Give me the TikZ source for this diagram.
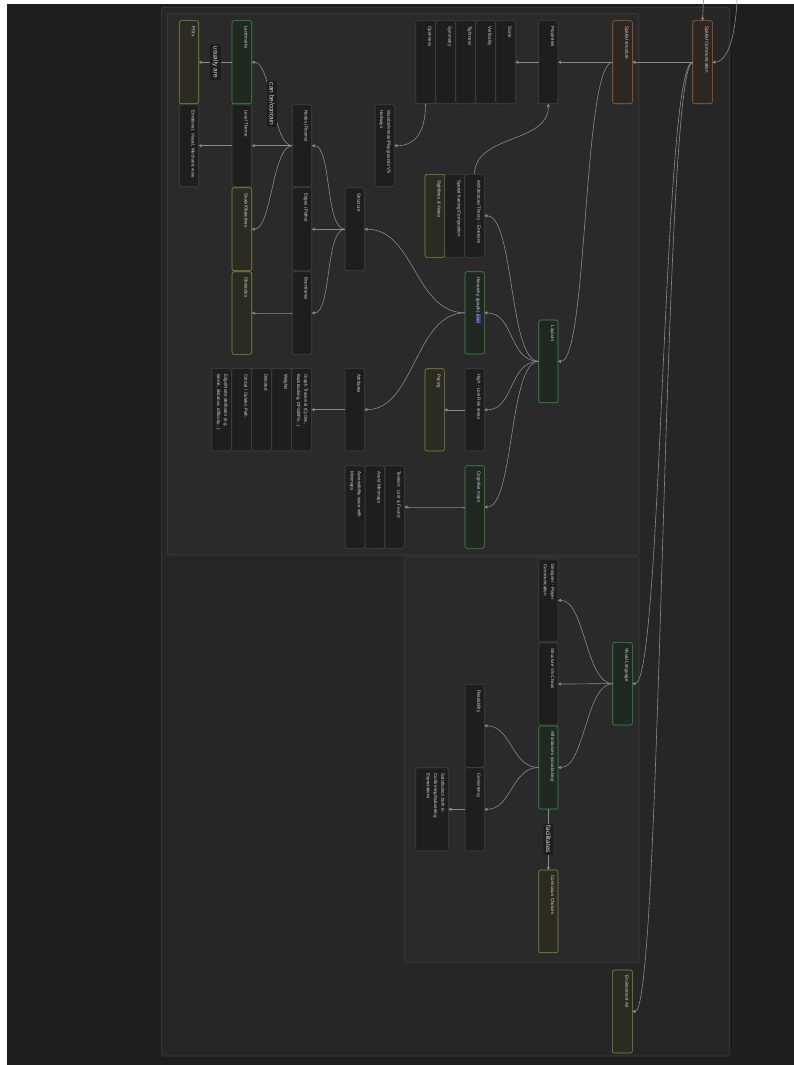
\documentclass[tikz,border=0pt]{standalone}
\usepackage{fontspec}
\setmainfont{Liberation Sans}
\usetikzlibrary{arrows.meta}
\definecolor{bgdark}{HTML}{1E1E1E}
\definecolor{grpA}{HTML}{262626}
\definecolor{grpB}{HTML}{2A2A2A}
\definecolor{grpline}{HTML}{3F3F3F}
\definecolor{nfill}{HTML}{1E1E1E}
\definecolor{nline}{HTML}{424242}
\definecolor{gfill}{HTML}{1F2922}
\definecolor{gline}{HTML}{3C8F4E}
\definecolor{yfill}{HTML}{2C2B22}
\definecolor{yline}{HTML}{8C8A3E}
\definecolor{ofill}{HTML}{2E2620}
\definecolor{oline}{HTML}{A8652C}
\definecolor{txtc}{HTML}{D6D6D6}
\definecolor{edgec}{HTML}{8A8A8A}
\definecolor{linkbg}{HTML}{3A3E80}
\definecolor{linktxt}{HTML}{A8B0FF}
\newcommand\hlk[1]{{\setlength\fboxsep{0.4pt}\colorbox{linkbg}{\textcolor{linktxt}{#1}}}}
\tikzset{
 box/.style={draw=nline, fill=nfill, rounded corners=2pt, line width=0.6pt, inner sep=0pt, outer sep=0pt},
 gbox/.style={box, draw=gline, fill=gfill},
 ybox/.style={box, draw=yline, fill=yfill},
 obox/.style={box, draw=oline, fill=ofill},
 txt/.style={rotate=-90, anchor=north west, inner sep=0pt, text=txtc, font=\fontsize{4.5}{7.2}\selectfont, align=left, text width=76pt},
 edge/.style={draw=edgec, line width=0.6pt, -{Triangle[length=3pt,width=3pt]}},
 lbl/.style={rotate=-90, fill=bgdark, text=txtc, font=\fontsize{6.5}{7}\selectfont, inner xsep=2pt, inner ysep=2.5pt, rounded corners=1pt},
}
\newcommand\cnode[7]{%
 \node[#2, minimum width={#5-#3}, minimum height={#6-#4}] (#1) at ({(#3+#5)/2},{(#4+#6)/2}) {};
 \node[txt] at ({#5-3.5},{#4+5.5}) {#7};
}
\newcommand\lk[3]{\draw[edge] (#1.west) .. controls +(-#3,0) and +(#3,0) .. (#2.east);}
\begin{document}
\begin{tikzpicture}[x=1pt,y=-1pt]
\useasboundingbox (0,0) rectangle (794,1065);
\fill[white] (0,0) rectangle (794,1065);
\fill[bgdark] (7,4) rectangle (794,1065);
% groups
\draw[grpline, fill=grpA, rounded corners=2pt, line width=0.6pt] (161.7,7.3) rectangle (729.3,1056);
\draw[grpline, fill=grpB, rounded corners=2pt, line width=0.6pt] (167.3,13.7) rectangle (639,555);
\draw[grpline, fill=grpB, rounded corners=2pt, line width=0.6pt] (404.3,556.7) rectangle (639,962.7);
% nodes
\cnode{pois}{ybox}{179.3}{20.7}{198.7}{103.7}{POIs}
\cnode{landmarks}{gbox}{232}{20.7}{251.7}{103.7}{Landmarks}
\cnode{emo}{box}{179.3}{104.7}{198.7}{186.7}{Emotional, Visual, Mechanic wise}
\cnode{theme}{box}{232}{104.7}{251.7}{186.7}{Level Theme}
\cnode{nodes}{box}{292.3}{104.7}{311.7}{186.7}{Nodes (Rooms)}
\cnode{islands}{box}{375}{104.7}{394.3}{186.7}{Islands/Arenas/Playgrounds VS\\Hallways}
\cnode{goals}{ybox}{232}{187.7}{251.7}{270.7}{Goals/Objectives}
\cnode{edges}{box}{292.3}{187.7}{311.7}{270.7}{Edges (Paths)}
\cnode{struct}{box}{345}{187.7}{364.3}{270.7}{Structure}
\cnode{obst}{ybox}{232}{271.7}{251.7}{354.3}{Obstacles}
\cnode{bounds}{box}{292.3}{271.7}{311.7}{354.3}{Boundaries}
\cnode{openness}{box}{415.7}{20.7}{435.3}{103.7}{Openness}
\cnode{symm}{box}{435.7}{20.7}{455.3}{103.7}{Symmetry}
\cnode{tight}{box}{455.7}{20.7}{475.3}{103.7}{Tightness}
\cnode{vert}{box}{475.7}{20.7}{495.3}{103.7}{Verticality}
\cnode{scale}{box}{495.7}{20.7}{515.3}{103.7}{Scale}
\cnode{props}{box}{538.7}{20.7}{558}{103.7}{Properties}
\cnode{sstruct}{obox}{612.7}{20.7}{632.3}{103.7}{Spatial structure}
\cnode{scomm}{obox}{692.7}{20.7}{712.3}{103.7}{Spatial Communication}
\cnode{sight}{ybox}{425}{174.3}{444.6}{257.3}{Sightlines \& Vistas}
\cnode{framing}{box}{444.8}{174.3}{464.6}{257.3}{Spatial framing/Composition}
\cnode{arch}{box}{464.8}{174.3}{484.3}{257.3}{Architectural Theory - Emotions}
\cnode{hier}{gbox}{465}{271.7}{484.3}{354}{Hierarchy (graph) \hlk{pool}}
\cnode{layouts}{gbox}{538.7}{320}{558}{402.7}{Layouts}
\cnode{pacing}{ybox}{425}{368.7}{444.3}{451}{Pacing}
\cnode{risk}{box}{465}{368.7}{484.3}{451}{High - Low Risk areas}
\cnode{attr}{box}{345}{368.3}{364.3}{451}{Attributes}
\cnode{graph}{box}{291.7}{368.3}{311.3}{451}{Graph Traversal (Cycles,\\Backtracking, DFS/BFS...)}
\cnode{weights}{box}{271.7}{368.3}{291.3}{451}{Weights}
\cnode{directed}{box}{251.7}{368.3}{271.3}{451}{Directed}
\cnode{critical}{box}{231.7}{368.3}{251.3}{451}{Critical / Golden Path}
\cnode{ena}{box}{211.7}{368.3}{231.3}{451}{Edge/Node attributes (e.g.\\biome, distance, difficulty...)}
\cnode{cog}{gbox}{465}{465.7}{484.3}{548.3}{Cognitive maps}
\cnode{tension}{box}{385}{465.7}{404.3}{548.3}{Tension: Lost \& Found}
\cnode{avoid}{box}{365}{465.7}{384.6}{548.3}{Avoid Minimaps}
\cnode{access}{box}{345}{465.7}{364.8}{548.3}{Accessibility issue with\\Minimaps}
\cnode{designer}{box}{538.7}{559}{558}{641.7}{Designer - Player\\Communication}
\cnode{svc}{box}{538.7}{643}{558}{725}{Structure VS Chaos}
\cnode{vislang}{gbox}{612.7}{642.3}{632.3}{725}{Visual Language}
\cnode{afford}{gbox}{538.7}{726}{558}{809}{Affordances (vocabulary)}
\cnode{conscious}{ybox}{538.7}{870}{558}{952.7}{Conscious Choices}
\cnode{read}{box}{465}{684.3}{484.3}{767.3}{Readability}
\cnode{consist}{box}{465}{767.7}{484.3}{851}{Consistency}
\cnode{satis}{box}{415.7}{767.7}{448.3}{851}{Satisfaction both in\\Confirming/Subverting\\Expectations}
\cnode{envart}{ybox}{612.3}{970}{632.3}{1053}{Environment Art}
% edges
\coordinate (topin) at (703.5,0);
\coordinate (rin) at (737,0);
\draw[edge] (topin) -- (scomm.north);
\draw[edge] (rin) .. controls (735,42) and (726,62) .. (scomm.east);
\lk{scomm}{sstruct}{20}
\lk{sstruct}{props}{20}
\lk{props}{scale}{10}
\lk{sstruct}{layouts}{30}
\lk{layouts}{arch}{30}
\lk{layouts}{hier}{30}
\lk{layouts}{risk}{30}
\lk{layouts}{cog}{30}
\lk{hier}{struct}{50}
\lk{hier}{attr}{50}
\lk{struct}{nodes}{20}
\lk{struct}{edges}{20}
\lk{struct}{bounds}{20}
\lk{nodes}{theme}{20}
\lk{nodes}{goals}{20}
\lk{theme}{emo}{17}
\lk{bounds}{obst}{20}
\lk{attr}{graph}{17}
\lk{risk}{pacing}{10}
\lk{cog}{tension}{30}
\lk{scomm}{vislang}{30}
\lk{scomm}{envart}{30}
\lk{vislang}{designer}{27}
\lk{vislang}{svc}{27}
\lk{vislang}{afford}{27}
\lk{afford}{read}{27}
\lk{afford}{consist}{27}
\lk{consist}{satis}{8}
\draw[edge] (openness.south) .. controls +(0,30) and +(20,0) .. (islands.east);
\draw[edge] (arch.north) .. controls +(0,-40) and +(0,40) .. (props.south);
\draw[edge] (nodes.west) .. controls +(-20,0) and +(20,0) .. node[lbl]{can be/contain} (landmarks.east);
\draw[edge] (landmarks.west) -- node[lbl]{usually are} (pois.east);
\draw[edge] (afford.south) -- node[lbl]{facilitates} (conscious.north);
\end{tikzpicture}
\end{document}
